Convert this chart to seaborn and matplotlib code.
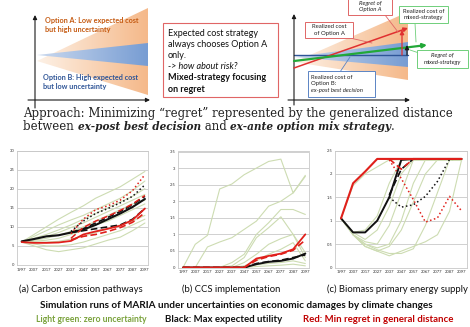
import numpy as np
import matplotlib
matplotlib.use("Agg")
import matplotlib.pyplot as plt
from matplotlib.patches import Polygon
from matplotlib.colors import LinearSegmentedColormap
import seaborn as sns

nan = np.nan

# %% data
years = [1997, 2007, 2017, 2027, 2037, 2047, 2057, 2067, 2077, 2087, 2097]
year_labels = [str(y) for y in years]

# (a) carbon emission pathways
a_green = [
    [6, 8, 10, 12, 13.8, 15.5, 17.5, 19, 20.5, 22.5, 24.5],
    [6, 7.5, 9, 10.5, 11.8, 13, 14.5, 16, 17.5, 19.5, 22],
    [6, 7, 8, 9.2, 10.5, 12, 13.5, 15, 16.5, 18, 20],
    [6, 6.8, 7.5, 8.5, 9.8, 11, 12.5, 14, 15.5, 17, 18.5],
    [6, 6.5, 7, 7.8, 8.8, 10, 11.5, 13, 14.5, 16, 17],
    [6, 6.2, 6.5, 7, 8, 9, 10.5, 11.5, 13, 14.5, 16],
    [6, 6, 6, 6.2, 6.8, 7.5, 8.5, 9.5, 10.5, 11.5, 13],
    [6, 5.5, 5, 5, 5.3, 6, 7, 8, 9, 10.5, 12],
    [6, 5, 4, 3.5, 4, 4.5, 5.5, 6.5, 7.3, 9, 11],
]
a_black_solid = [6.2, 6.8, 7.5, 7.8, 8.5, 9.3, 10.5, 12.0, 13.5, 15.2, 17.3]
a_black_dash = [nan, nan, nan, nan, 8.5, 9.5, 11.0, 12.5, 14.0, 15.8, 18.0]
a_black_dash_low = [nan, nan, nan, nan, 8.5, 9.0, 9.5, 10.0, 10.5, 12.0, 14.8]
a_black_dot = [nan, nan, nan, nan, 8.8, 11.5, 13.5, 14.8, 16.3, 18.0, 21.0]
a_red_solid = [6.0, 5.8, 5.8, 5.9, 6.3, 8.0, 8.8, 9.5, 10.3, 11.8, 14.8]
a_red_dash = [nan, nan, nan, nan, 6.6, 7.5, 8.0, 8.8, 9.8, 11.2, 13.7]
a_red_dash_high = [nan, nan, nan, nan, 7.0, 9.8, 11.5, 12.8, 14.3, 16.0, 18.2]
a_red_dot = [nan, nan, nan, nan, 8.2, 12.0, 14.5, 15.5, 17.0, 19.5, 23.7]

# (b) CCS implementation
b_green = [
    [0, 0.7, 0.97, 2.37, 2.52, 2.8, 3.0, 3.2, 3.27, 2.25, 2.75],
    [0, 0, 0.62, 0.77, 0.9, 1.15, 1.4, 1.85, 2.0, 2.25, 2.78],
    [0, 0, 0, 0, 0.15, 0.4, 1.0, 1.35, 1.75, 1.75, 1.6],
    [0, 0, 0, 0, 0.05, 0.3, 0.9, 1.2, 1.53, 1.0, 0.45],
    [0, 0, 0, 0, 0, 0.15, 0.4, 0.7, 0.87, 1.0, 0.3],
    [0, 0, 0, 0, 0, 0.05, 0.2, 0.4, 0.55, 0.75, 0.2],
    [0, 0, 0, 0, 0, 0, 0.08, 0.12, 0.15, 0.2, 0.12],
    [0, 0, 0, 0, 0, 0, 0.03, 0.05, 0.07, 0.1, 0.05],
]
b_black_solid = [0, 0, 0, 0, 0, 0, 0.1, 0.17, 0.2, 0.27, 0.42]
b_black_dash = [0, 0, 0, 0, 0, 0, 0.12, 0.18, 0.22, 0.3, 0.38]
b_red_solid = [0, 0, 0, 0, 0, 0, 0.27, 0.35, 0.42, 0.55, 1.0]
b_red_dash = [0, 0, 0, 0, 0, 0, 0.22, 0.33, 0.40, 0.52, 0.83]

# (c) biomass primary energy supply
c_green = [
    [1.05, 1.75, 2.0, 2.15, 2.3, 2.3, 2.3, 2.3, 2.3, 2.3, 2.3],
    [1.05, 0.75, 0.8, 1.1, 1.8, 2.3, 2.3, 2.3, 2.3, 2.3, 2.3],
    [1.05, 0.75, 0.6, 0.8, 1.3, 2.0, 2.3, 2.3, 2.3, 2.3, 2.3],
    [1.05, 0.7, 0.55, 0.5, 0.9, 1.6, 2.3, 2.3, 2.3, 2.3, 2.3],
    [1.05, 0.7, 0.5, 0.42, 0.5, 1.0, 1.8, 2.3, 2.3, 2.3, 2.3],
    [1.05, 0.7, 0.45, 0.35, 0.45, 0.8, 1.4, 2.0, 2.3, 2.3, 2.3],
    [1.05, 0.7, 0.45, 0.35, 0.25, 0.35, 0.45, 0.55, 0.7, 1.2, 2.3],
    [1.05, 0.7, 0.5, 0.38, 0.3, 0.3, 0.4, 0.9, 1.6, 2.3, 2.3],
]
c_black_solid = [1.05, 0.75, 0.75, 1.0, 1.5, 2.3, 2.32, 2.32, 2.32, 2.32, 2.32]
c_black_dash = [nan, nan, nan, nan, 1.55, 2.1, 2.32, 2.32, 2.32, 2.32, 2.32]
c_black_dot = [nan, nan, nan, nan, 1.5, 1.29, 1.34, 1.52, 1.84, 2.31, 2.32]
c_red_solid = [1.05, 1.8, 2.05, 2.32, 2.32, 2.32, 2.32, 2.32, 2.32, 2.32, 2.32]
c_red_dash = [nan, nan, nan, nan, 2.32, 2.1, 2.32, 2.32, 2.32, 2.32, 2.32]
c_red_dot = [nan, nan, nan, nan, 2.3, 1.9, 1.45, 0.97, 1.06, 1.52, 1.21]

# %% style
sns.set_theme(style="white")
plt.rcParams["font.family"] = ["Lato", "DejaVu Sans"]

GREEN = "#cddcb2"
RED = "#e0201b"
BLACK = "#111111"
W, H = 470, 327

fig = plt.figure(figsize=(W / 100, H / 100), dpi=100)

# overlay axes in pixel units for the schematic part and the texts
ov = fig.add_axes([0, 0, 1, 1])
ov.set_xlim(0, W)
ov.set_ylim(H, 0)
ov.axis("off")

peach = LinearSegmentedColormap.from_list("peach", ["#fdf1e6", "#f5b98a"])
blue = LinearSegmentedColormap.from_list("blue", ["#c9d8ee", "#789dd3"])


def wedge(poly, cmap, z):
    xs = [p[0] for p in poly]
    ys = [p[1] for p in poly]
    patch = Polygon(poly, closed=True, fc="none", ec="none")
    ov.add_patch(patch)
    grad = np.linspace(0, 1, 64).reshape(1, -1)
    im = ov.imshow(grad, cmap=cmap, aspect="auto", zorder=z,
                   extent=[min(xs), max(xs), max(ys), min(ys)])
    im.set_clip_path(patch)


def arrow(x0, y0, x1, y1, color="k", lw=0.8, z=5):
    ov.annotate("", xy=(x1, y1), xytext=(x0, y0), zorder=z,
                arrowprops=dict(arrowstyle="-|>", color=color, lw=lw,
                                mutation_scale=6, shrinkA=0, shrinkB=0))


# left schematic
wedge([(37, 61), (148, 8), (148, 95)], peach, 1)
wedge([(37, 55), (148, 43), (148, 66)], blue, 2)
arrow(35, 108, 35, 15)
arrow(28, 100, 150, 100)
ov.text(45, 25, "Option A: Low expected cost\nbut high uncertainty", fontsize=5.2,
        color="#c55a11", fontweight="bold", va="center", linespacing=1.3)
ov.text(43, 82, "Option B: High expected cost\nbut low uncertainty", fontsize=5.2,
        color="#2f5597", fontweight="bold", va="center", linespacing=1.3)

# middle box
ov.add_patch(plt.Rectangle((163, 23), 115, 74, fc="white", ec="#e06666", lw=0.8))
mid_lines = [
    ("Expected cost strategy", "normal", "normal"),
    ("always chooses Option A", "normal", "normal"),
    ("only.", "normal", "normal"),
    ("-> how about risk?", "italic", "normal"),
    ("Mixed-strategy focusing", "normal", "bold"),
    ("on regret", "normal", "bold"),
]
for i, (s, st, wt) in enumerate(mid_lines):
    ov.text(168, 33 + i * 11.2, s, fontsize=6.5, style=st, fontweight=wt,
            va="center", color="#111111")

# right schematic
wedge([(294, 62), (408, 12), (408, 80)], peach, 1)
wedge([(294, 57), (408, 42), (408, 67)], blue, 2)
arrow(294, 105, 294, 14)
arrow(288, 100, 410, 100)
ov.plot([294, 408], [55, 55], color="#2e5597", lw=1, zorder=4)
arrow(294, 68, 408, 28, color="#e03030", lw=1.1)
arrow(294, 61, 427, 45, color="#22a838", lw=1.6)
arrow(402, 55, 402, 30, color="#e03030", lw=0.9)
arrow(407, 55, 407, 45, color="k", lw=0.9)


def callout(box, lines, ec, tip, base, ha="center"):
    bx, by, bw, bh = box
    ov.plot([base[0], tip[0]], [base[1], tip[1]], color=ec, lw=0.6, zorder=6)
    ov.add_patch(plt.Rectangle((bx, by), bw, bh, fc="white", ec=ec, lw=0.7, zorder=7))
    n = len(lines)
    for i, (s, st) in enumerate(lines):
        ty = by + bh / 2 + (i - (n - 1) / 2) * 6.2
        tx = bx + bw / 2 if ha == "center" else bx + 3
        ov.text(tx, ty, s, fontsize=4.3, style=st, ha=ha, va="center",
                zorder=8, color="#222222")


callout((348, -2, 44, 17), [("Regret of", "italic"), ("Option A", "italic")],
        "#e06666", (398, 32), (385, 15))
callout((305, 22, 48, 16), [("Realized cost", "normal"), ("of Option A", "normal")],
        "#e06666", (372, 43), (350, 38))
callout((399, 6, 49, 17), [("Realized cost of", "normal"), ("mixed-strategy", "normal")],
        "#6fcf7a", (416, 42), (415, 23))
callout((417, 50, 51, 18), [("Regret of", "italic"), ("mixed-strategy", "italic")],
        "#6fcf7a", (410, 50), (425, 55))
callout((308, 71, 67, 26), [("Realized cost of", "normal"), ("Option B:", "normal"),
                            ("ex-post best decision", "italic")],
        "#5b84c4", (350, 57), (340, 72), ha="left")

# approach text with mixed runs
renderer = fig.canvas.get_renderer()


def runs(x, y, parts):
    for s, bold in parts:
        t = ov.text(x, y, s, fontsize=7.6 if bold else 8.5, va="center", color="#222222",
                    family=["DejaVu Serif"],
                    fontweight="bold" if bold else "normal",
                    style="italic" if bold else "normal")
        x += t.get_window_extent(renderer).width


runs(23, 113, [("Approach: Minimizing \u201cregret\u201d represented by the generalized distance", False)])
runs(23, 127, [("between ", False), ("ex-post best decision", True), (" and ", False),
               ("ex-ante option mix strategy", True), (".", False)])


# %% line charts
def chart(px, ylim, yticks, green, series):
    x0, y0, x1, y1 = px
    ax = fig.add_axes([x0 / W, 1 - y1 / H, (x1 - x0) / W, (y1 - y0) / H])
    for vals in green:
        sns.lineplot(x=years, y=vals, ax=ax, color=GREEN, linewidth=0.8, errorbar=None)
    for vals, color, ls, lw in series:
        sns.lineplot(x=years, y=vals, ax=ax, color=color, linestyle=ls,
                     linewidth=lw, errorbar=None)
    ax.set_ylim(*ylim)
    ax.set_yticks(yticks)
    ax.set_yticklabels([f"{v:g}" for v in yticks])
    ax.set_xticks(years)
    ax.set_xticklabels(year_labels)
    ax.set_xlabel("")
    ax.set_ylabel("")
    ax.grid(axis="y", color="#bdbdbd", lw=0.5)
    ax.grid(axis="x", visible=False)
    for sp in ax.spines.values():
        sp.set_color("#c8c8c8")
        sp.set_linewidth(0.6)
    ax.tick_params(length=0, labelsize=3, pad=2, colors="#333333")
    return ax


ax_a = chart((17, 150.5, 148, 265), (0, 30), list(range(0, 31, 5)), a_green, [
    (a_black_dash_low, BLACK, (0, (4, 2)), 1.2),
    (a_black_dot, BLACK, ":", 1.1),
    (a_black_dash, BLACK, (0, (4, 2)), 1.2),
    (a_black_solid, BLACK, "-", 1.5),
    (a_red_dash, RED, (0, (4, 2)), 1.2),
    (a_red_dash_high, RED, (0, (4, 2)), 1.1),
    (a_red_dot, RED, ":", 1.1),
    (a_red_solid, RED, "-", 1.3),
])
ax_a.set_xlim(1997 - 3.8, 2097 + 2.5)

ax_b = chart((178, 151.5, 309, 267.5), (0, 3.5), [0, 0.5, 1, 1.5, 2, 2.5, 3, 3.5], b_green, [
    (b_black_dash, BLACK, (0, (4, 2)), 1.2),
    (b_black_solid, BLACK, "-", 1.4),
    (b_red_dash, RED, (0, (4, 2)), 1.2),
    (b_red_solid, RED, "-", 1.3),
])
ax_b.set_xlim(1997 - 4.1, 2097 + 3.0)

ax_c = chart((335, 150.5, 467, 267.5), (0, 2.5), [0, 0.5, 1, 1.5, 2, 2.5], c_green, [
    (c_black_dot, BLACK, ":", 1.1),
    (c_red_dot, RED, ":", 1.1),
    (c_black_dash, BLACK, (0, (4, 2)), 1.2),
    (c_black_solid, BLACK, "-", 1.4),
    (c_red_dash, RED, (0, (4, 2)), 1.2),
    (c_red_solid, RED, "-", 1.5),
])
ax_c.set_xlim(1997 - 5.0, 2097 + 4.5)

# %% captions
for x, s in [(81, "(a) Carbon emission pathways"), (231, "(b) CCS implementation"),
             (397, "(c) Biomass primary energy supply")]:
    ov.text(x, 289, s, fontsize=6.8, ha="center", va="center", color="#111111")
ov.text(236, 306, "Simulation runs of MARIA under uncertainties on economic damages by climate changes",
        fontsize=7.2, ha="center", va="center", fontweight="bold", color="#111111")
for x, s, c, fs in [(91, "Light green: zero uncertainty", "#7aa23c", 6.2),
                    (224, "Black: Max expected utility", "#111111", 6.9),
                    (378, "Red: Min regret in general distance", "#c00000", 6.9)]:
    ov.text(x, 320, s, fontsize=fs, ha="center", va="center", fontweight="bold", color=c)

fig.savefig("out.png", dpi=100)
